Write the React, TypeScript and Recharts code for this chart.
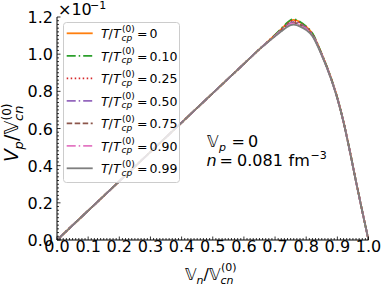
import React from 'react';
import { LineChart, Line, XAxis, YAxis, Legend } from 'recharts';

const xValues = [0, 0.1, 0.2, 0.3, 0.4, 0.5, 0.6, 0.65, 0.7, 0.72, 0.74, 0.75, 0.76, 0.77, 0.78, 0.8, 0.82, 0.85, 0.88, 0.9, 0.92, 0.94, 0.96, 0.98, 1.0];

const t000 = [0, 0.158, 0.316, 0.474, 0.632, 0.79, 0.948, 1.027, 1.103, 1.135, 1.168, 1.181, 1.185, 1.181, 1.172, 1.148, 1.11, 1.0, 0.87, 0.765, 0.635, 0.48, 0.315, 0.155, 0];
const t010 = [0, 0.158, 0.316, 0.474, 0.632, 0.79, 0.948, 1.027, 1.104, 1.137, 1.171, 1.184, 1.188, 1.184, 1.175, 1.15, 1.112, 1.001, 0.871, 0.766, 0.636, 0.481, 0.315, 0.155, 0];
const t025 = [0, 0.158, 0.316, 0.474, 0.632, 0.79, 0.948, 1.027, 1.102, 1.133, 1.164, 1.176, 1.18, 1.177, 1.168, 1.145, 1.108, 0.999, 0.869, 0.764, 0.635, 0.48, 0.315, 0.155, 0];
const t050 = [0, 0.158, 0.316, 0.474, 0.632, 0.79, 0.948, 1.027, 1.1, 1.13, 1.158, 1.169, 1.173, 1.17, 1.162, 1.14, 1.104, 0.997, 0.868, 0.763, 0.634, 0.479, 0.314, 0.155, 0];
const t075 = [0, 0.158, 0.316, 0.474, 0.632, 0.79, 0.948, 1.027, 1.099, 1.128, 1.155, 1.165, 1.169, 1.166, 1.158, 1.137, 1.102, 0.996, 0.867, 0.762, 0.633, 0.479, 0.314, 0.154, 0];
const t090 = [0, 0.158, 0.316, 0.474, 0.632, 0.79, 0.948, 1.027, 1.098, 1.126, 1.152, 1.162, 1.165, 1.162, 1.155, 1.134, 1.1, 0.995, 0.866, 0.762, 0.633, 0.478, 0.313, 0.154, 0];
const t099 = [0, 0.158, 0.316, 0.474, 0.632, 0.79, 0.948, 1.027, 1.096, 1.123, 1.147, 1.156, 1.159, 1.156, 1.149, 1.13, 1.097, 0.993, 0.865, 0.76, 0.632, 0.477, 0.313, 0.154, 0];

const seriesKeys = ['t000', 't010', 't025', 't050', 't075', 't090', 't099'];
const seriesValues = [t000, t010, t025, t050, t075, t090, t099];
const seriesLabels = ['0', '0.10', '0.25', '0.50', '0.75', '0.90', '0.99'];
const seriesColors = ['#ff7f0e', '#2ca02c', '#d62728', '#9467bd', '#8c564b', '#e377c2', '#7f7f7f'];
const seriesDash = ['', '9 3 1.5 3', '1.5 2.5', '9 3 1.5 3', '5.5 2.5', '9 3 1.5 3', ''];

const xMajorTicks = [0, 0.1, 0.2, 0.3, 0.4, 0.5, 0.6, 0.7, 0.8, 0.9, 1.0];
const yMajorTicks = [0, 0.2, 0.4, 0.6, 0.8, 1.0, 1.2];
const xAllTicks = Array.from({ length: 101 }, (_, i) => i / 100);
const yAllTicks = Array.from({ length: 61 }, (_, i) => i / 50);

const data = xValues.map((x, i) => {
  const row: Record<string, number> = { x };
  seriesKeys.forEach((k, j) => {
    row[k] = seriesValues[j][i];
  });
  return row;
});

const FONT = 'DejaVu Sans';

const isMajor = (v: number, list: number[]) => list.some((m) => Math.abs(m - v) < 1e-9);

const XTick = (props: any) => {
  const { x, y, payload } = props;
  const v = payload.value as number;
  const major = isMajor(v, xMajorTicks);
  return (
    <g>
      <line x1={x} x2={x} y1={y} y2={y - (major ? 3.5 : 2)} stroke="#000" strokeWidth={0.8} />
      {major && (
        <text x={x} y={y + 12} textAnchor="middle" fontSize={16} fontFamily={FONT} fill="#000">
          {v.toFixed(1)}
        </text>
      )}
    </g>
  );
};

const YTick = (props: any) => {
  const { x, y, payload } = props;
  const v = payload.value as number;
  const major = isMajor(v, yMajorTicks);
  return (
    <g>
      <line x1={x} x2={x + (major ? 3.5 : 2)} y1={y} y2={y} stroke="#000" strokeWidth={0.8} />
      {major && (
        <text x={x - 4} y={y + 6} textAnchor="end" fontSize={16} fontFamily={FONT} fill="#000">
          {v.toFixed(1)}
        </text>
      )}
    </g>
  );
};

const renderLegend = () => (
  <svg width={117} height={162} style={{ display: 'block' }}>
    <rect x={0.5} y={0.5} width={116} height={160} rx={3} ry={3} fill="#ffffff" fillOpacity={0.8} stroke="#cccccc" strokeWidth={1} />
    {seriesLabels.map((lab, i) => {
      const yc = 11.3 + 22.5 * i;
      return (
        <g key={lab}>
          <line x1={3.7} x2={29.7} y1={yc} y2={yc} stroke={seriesColors[i]} strokeWidth={1.8} strokeDasharray={seriesDash[i] || undefined} />
          <text x={38} y={yc + 5} fontSize={12.5} fontFamily={FONT} fill="#000" fontStyle="italic">T</text>
          <text x={45.5} y={yc + 5} fontSize={12.5} fontFamily={FONT} fill="#000">/</text>
          <text x={50} y={yc + 5} fontSize={12.5} fontFamily={FONT} fill="#000" fontStyle="italic">T</text>
          <text x={59} y={yc - 1.5} fontSize={9} fontFamily={FONT} fill="#000">(0)</text>
          <text x={58.5} y={yc + 7.5} fontSize={9} fontFamily={FONT} fill="#000" fontStyle="italic">cp</text>
          <text x={74} y={yc + 5} fontSize={12.5} fontFamily={FONT} fill="#000">=</text>
          <text x={86.5} y={yc + 5} fontSize={12.5} fontFamily={FONT} fill="#000">{lab}</text>
        </g>
      );
    })}
  </svg>
);

export default function App() {
  return (
    <div style={{ position: 'absolute', left: 0, top: 0, width: 382, height: 286, background: '#fff' }}>
      <LineChart width={382} height={286} data={data} margin={{ top: 17, right: 13.5, bottom: 0, left: 0 }}>
        <XAxis
          dataKey="x"
          type="number"
          domain={[0, 1]}
          ticks={xAllTicks}
          interval={0}
          tickSize={0}
          tickMargin={0}
          height={46}
          tick={<XTick />}
          tickLine={false}
          axisLine={{ stroke: '#000', strokeWidth: 1 }}
          allowDataOverflow
        />
        <XAxis xAxisId="top" orientation="top" type="number" domain={[0, 1]} height={0} tick={false} tickLine={false} axisLine={{ stroke: '#000', strokeWidth: 1 }} />
        <YAxis
          type="number"
          domain={[0, 1.2]}
          ticks={yAllTicks}
          interval={0}
          tickSize={0}
          tickMargin={0}
          width={57}
          tick={<YTick />}
          tickLine={false}
          axisLine={{ stroke: '#000', strokeWidth: 1 }}
          allowDataOverflow
        />
        <YAxis yAxisId="right" orientation="right" type="number" domain={[0, 1.2]} width={0} tick={false} tickLine={false} axisLine={{ stroke: '#000', strokeWidth: 1 }} />
        <Legend
          layout="vertical"
          align="center"
          verticalAlign="middle"
          content={renderLegend}
          wrapperStyle={{ left: 63, top: 22, width: 117, height: 162 }}
        />
        {seriesKeys.map((k, i) => (
          <Line
            key={k}
            dataKey={k}
            name={seriesLabels[i]}
            type="monotone"
            stroke={seriesColors[i]}
            strokeWidth={1.8}
            strokeDasharray={seriesDash[i] || undefined}
            dot={false}
            activeDot={false}
            isAnimationActive={false}
          />
        ))}
      </LineChart>
      <svg width={382} height={286} style={{ position: 'absolute', left: 0, top: 0, pointerEvents: 'none' }}>
        {/* offset label */}
        <text x={58} y={14.5} fontSize={16} fontFamily={FONT} fill="#000">×10</text>
        <text x={90} y={9} fontSize={11} fontFamily={FONT} fill="#000">−1</text>
        {/* x axis label */}
        <text x={185} y={280} fontSize={16} fontFamily={FONT} fill="#000">𝕍</text>
        <text x={196.5} y={283.5} fontSize={11} fontFamily={FONT} fill="#000" fontStyle="italic">n</text>
        <text x={203.5} y={280} fontSize={16} fontFamily={FONT} fill="#000">/</text>
        <text x={209} y={280} fontSize={16} fontFamily={FONT} fill="#000">𝕍</text>
        <text x={220.5} y={283.5} fontSize={11} fontFamily={FONT} fill="#000" fontStyle="italic">cn</text>
        <text x={221} y={271} fontSize={11} fontFamily={FONT} fill="#000">(0)</text>
        {/* y axis label */}
        <g transform="translate(18, 162) rotate(-90)">
          <text x={0} y={0} fontSize={19} fontFamily={FONT} fill="#000" fontStyle="italic">V</text>
          <text x={12.5} y={4.5} fontSize={13} fontFamily={FONT} fill="#000" fontStyle="italic">p</text>
          <text x={21} y={0} fontSize={19} fontFamily={FONT} fill="#000">/</text>
          <text x={27.5} y={0} fontSize={19} fontFamily={FONT} fill="#000">𝕍</text>
          <text x={41} y={4.5} fontSize={13} fontFamily={FONT} fill="#000" fontStyle="italic">cn</text>
          <text x={41.5} y={-7.5} fontSize={12} fontFamily={FONT} fill="#000">(0)</text>
        </g>
        {/* annotation */}
        <text x={207} y={147} fontSize={16} fontFamily={FONT} fill="#000">𝕍</text>
        <text x={219} y={150.5} fontSize={11} fontFamily={FONT} fill="#000" fontStyle="italic">p</text>
        <text x={231.5} y={147} fontSize={16} fontFamily={FONT} fill="#000">=</text>
        <text x={248} y={147} fontSize={16} fontFamily={FONT} fill="#000">0</text>
        <text x={206.5} y={166} fontSize={16} fontFamily={FONT} fill="#000" fontStyle="italic">n</text>
        <text x={219.5} y={166} fontSize={16} fontFamily={FONT} fill="#000">=</text>
        <text x={237} y={166} fontSize={16} fontFamily={FONT} fill="#000">0.081</text>
        <text x={288.5} y={166} fontSize={16} fontFamily={FONT} fill="#000">fm</text>
        <text x={310.5} y={159} fontSize={11} fontFamily={FONT} fill="#000">−3</text>
      </svg>
    </div>
  );
}
